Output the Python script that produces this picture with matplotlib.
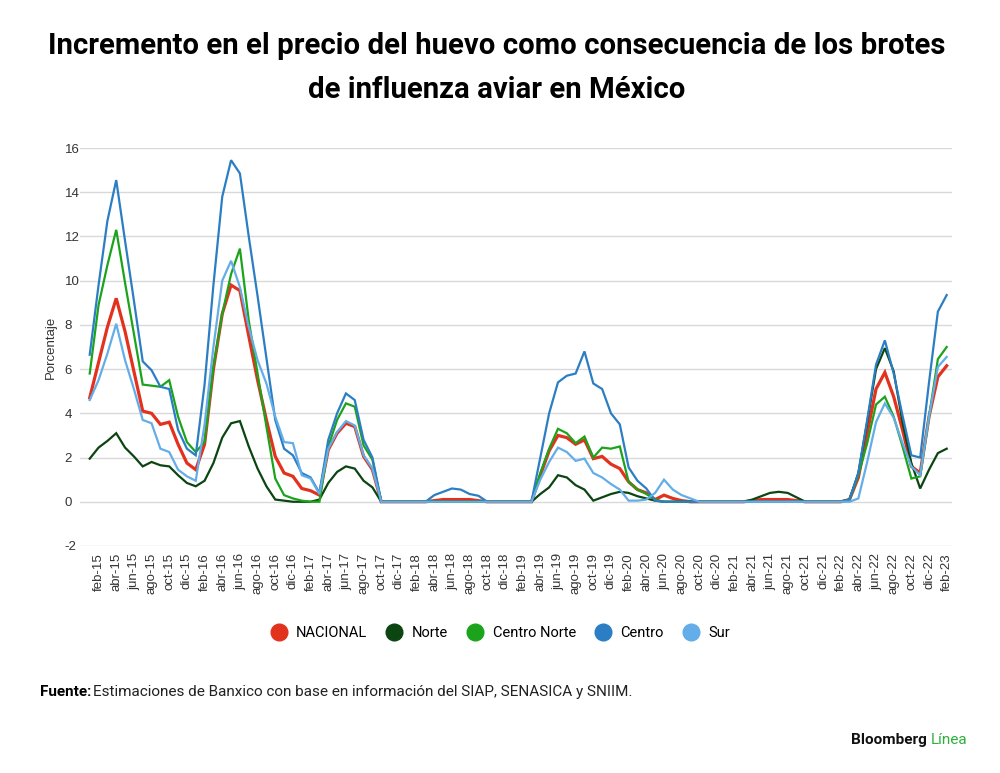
import numpy as np
import matplotlib
matplotlib.use("Agg")
import matplotlib.pyplot as plt
from matplotlib.lines import Line2D

# monthly series, ene-15 .. feb-23 (98 points)
nacional = [4.7, 6.3, 7.9, 9.2, 7.7, 5.9, 4.1, 4.0, 3.5, 3.6, 2.6, 1.75,
            1.45, 2.6, 6.0, 8.5, 9.8, 9.55, 7.5, 5.5, 3.7, 2.05, 1.3, 1.15,
            0.6, 0.5, 0.3, 2.35, 3.1, 3.55, 3.4, 2.05, 1.45, 0, 0, 0,
            0, 0, 0, 0.05, 0.1, 0.1, 0.1, 0.1, 0.05, 0, 0, 0,
            0, 0, 0, 1.2, 2.3, 3.0, 2.9, 2.6, 2.8, 1.95, 2.05, 1.7,
            1.5, 0.9, 0.55, 0.4, 0.1, 0.3, 0.15, 0.05, 0, 0, 0, 0,
            0, 0, 0, 0.05, 0.1, 0.1, 0.1, 0.1, 0.05, 0, 0, 0,
            0, 0, 0.1, 1.1, 3.1, 5.1, 5.85, 4.75, 3.25, 1.6, 1.3, 3.85,
            5.65, 6.15]
norte = [1.95, 2.45, 2.75, 3.1, 2.45, 2.05, 1.6, 1.8, 1.65, 1.6, 1.2, 0.85,
         0.7, 0.95, 1.75, 2.9, 3.55, 3.65, 2.5, 1.5, 0.7, 0.1, 0.05, 0,
         0, 0, 0.1, 0.85, 1.35, 1.6, 1.5, 0.95, 0.65, 0, 0, 0,
         0, 0, 0, 0, 0, 0, 0, 0, 0, 0, 0, 0,
         0, 0, 0, 0.35, 0.65, 1.2, 1.1, 0.75, 0.55, 0.05, 0.2, 0.35,
         0.45, 0.4, 0.25, 0.15, 0.05, 0, 0, 0, 0, 0, 0, 0,
         0, 0, 0, 0.1, 0.25, 0.4, 0.45, 0.4, 0.2, 0, 0, 0,
         0, 0, 0.1, 1.3, 3.6, 6.0, 6.95, 5.9, 3.6, 1.75, 0.6, 1.45,
         2.2, 2.4]
centro_norte = [5.8, 8.9, 10.7, 12.3, 9.9, 7.6, 5.3, 5.25, 5.2, 5.5, 3.85, 2.7,
                2.25, 2.7, 6.1, 8.5, 10.3, 11.45, 8.2, 5.8, 3.4, 1.05, 0.3, 0.15,
                0.05, 0, 0, 2.5, 3.7, 4.45, 4.3, 2.55, 1.9, 0, 0, 0,
                0, 0, 0, 0, 0, 0, 0, 0, 0, 0, 0, 0,
                0, 0, 0, 1.3, 2.4, 3.3, 3.1, 2.65, 2.95, 2.0, 2.45, 2.4,
                2.5, 0.9, 0.55, 0.35, 0.1, 0, 0, 0, 0, 0, 0, 0,
                0, 0, 0, 0, 0, 0, 0, 0, 0, 0, 0, 0,
                0, 0, 0.1, 1.2, 2.65, 4.4, 4.75, 3.85, 2.5, 1.05, 1.15, 3.85,
                6.45, 7.0]
centro = [6.65, 9.8, 12.7, 14.55, 11.8, 9.1, 6.35, 5.95, 5.2, 5.1, 3.25, 2.4,
          2.1, 5.3, 9.8, 13.8, 15.45, 14.85, 12.0, 9.3, 6.5, 3.7, 2.4, 2.1,
          1.3, 1.1, 0.4, 2.8, 4.0, 4.9, 4.6, 2.8, 2.0, 0, 0, 0,
          0, 0, 0, 0.3, 0.45, 0.6, 0.55, 0.35, 0.27, 0, 0, 0,
          0, 0, 0, 2.0, 4.0, 5.4, 5.7, 5.8, 6.8, 5.35, 5.1, 4.0,
          3.5, 1.55, 0.95, 0.6, 0.05, 0, 0, 0, 0, 0, 0, 0,
          0, 0, 0, 0, 0, 0, 0, 0, 0, 0, 0, 0,
          0, 0, 0.1, 1.3, 3.7, 6.2, 7.3, 5.8, 3.9, 2.1, 2.0, 5.4,
          8.6, 9.35]
sur = [4.6, 5.5, 6.7, 8.05, 6.4, 5.1, 3.7, 3.55, 2.4, 2.25, 1.45, 1.15,
       0.95, 3.5, 7.0, 10.0, 10.9, 9.7, 7.9, 6.4, 5.35, 3.85, 2.7, 2.65,
       1.2, 1.05, 0.35, 2.4, 3.15, 3.65, 3.45, 2.1, 1.5, 0, 0, 0,
       0, 0, 0, 0, 0, 0, 0, 0, 0, 0, 0, 0,
       0, 0, 0, 1.0, 1.8, 2.45, 2.25, 1.85, 1.95, 1.3, 1.1, 0.8,
       0.55, 0.05, 0.05, 0.1, 0.4, 1.0, 0.55, 0.3, 0.15, 0, 0, 0,
       0, 0, 0, 0, 0, 0, 0, 0, 0, 0, 0, 0,
       0, 0, 0, 0.15, 1.8, 3.6, 4.45, 3.8, 2.65, 1.6, 1.2, 3.85,
       6.1, 6.55]

meses = ['ene', 'feb', 'mar', 'abr', 'may', 'jun',
         'jul', 'ago', 'sep', 'oct', 'nov', 'dic']
anio_inicio = 15

series = [('NACIONAL', nacional, '#e2321e', 2.3),
          ('Norte', norte, '#0b4511', 1.6),
          ('Centro Norte', centro_norte, '#1ba31b', 1.6),
          ('Centro', centro, '#2b7ec3', 1.6),
          ('Sur', sur, '#63ade8', 1.6)]

n = len(nacional)
x = np.arange(n)
etiquetas = [f"{meses[i % 12]}-{anio_inicio + i // 12}" for i in range(n)]

cond = ['Roboto', 'DejaVu Sans']
plt.rcParams['font.family'] = ['Liberation Sans', 'DejaVu Sans']
plt.rcParams['axes.unicode_minus'] = False

fig = plt.figure(figsize=(10, 7.73), dpi=100)
ax = fig.add_axes([0.08, 0.2937, 0.872, 0.5148])

for nombre, vals, color, lw in series:
    ax.plot(x, vals, color=color, lw=lw, label=nombre, solid_joinstyle='miter')

ax.set_ylim(-2, 16)
ax.set_xlim(-1.1, n - 0.4)
ax.set_yticks(np.arange(-2, 17, 2))
ax.set_xticks(x[1::2])
ax.set_xticklabels(etiquetas[1::2], rotation=90, fontsize=9.5, color='#333333')
ax.tick_params(axis='both', length=0)
ax.tick_params(axis='x', pad=5)
ax.tick_params(axis='y', pad=11, labelsize=9.5, labelcolor='#333333')
for lbl in ax.get_yticklabels():
    lbl.set_ha('left')
ax.grid(axis='y', color='#d9d9d9', lw=1)
ax.set_axisbelow(True)
for s in ax.spines.values():
    s.set_visible(False)
ax.set_ylabel('Porcentaje', fontsize=9.5, color='#333333', labelpad=6)

handles = [Line2D([], [], ls='none', marker='o', markersize=12,
                  markerfacecolor=c, markeredgecolor=c) for _, _, c, _ in series]
fig.legend(handles, [s[0] for s in series], loc='center', bbox_to_anchor=(0.5, 0.181),
           ncol=5, frameon=False, handletextpad=0.6, columnspacing=1.25,
           handlelength=1.2, prop={'family': cond, 'size': 10.5})

fig.text(0.497, 1 - 46 / 773, 'Incremento en el precio del huevo como consecuencia de los brotes',
         ha='center', va='center', fontsize=21.2, fontweight='bold', family=cond)
fig.text(0.497, 1 - 90 / 773, 'de influenza aviar en México',
         ha='center', va='center', fontsize=21.2, fontweight='bold', family=cond)

t = fig.text(0.04, 1 - 692 / 773, 'Fuente:', ha='left', va='center',
             fontsize=11, fontweight='bold', family=cond)
fig.canvas.draw()
bb = t.get_window_extent()
fig.text(bb.x1 / 1000 + 0.002, 1 - 692 / 773,
         'Estimaciones de Banxico con base en información del SIAP, SENASICA y SNIIM.',
         ha='left', va='center', fontsize=11, family=cond, color='#222222')

t2 = fig.text(0.967, 1 - 740 / 773, 'Línea', ha='right', va='center',
              fontsize=11, family=cond, color='#2fae3c')
fig.canvas.draw()
bb2 = t2.get_window_extent()
fig.text(bb2.x0 / 1000 - 0.004, 1 - 740 / 773, 'Bloomberg', ha='right', va='center',
         fontsize=11, fontweight='bold', family=cond, color='#111111')

fig.savefig('out.png', dpi=100)
